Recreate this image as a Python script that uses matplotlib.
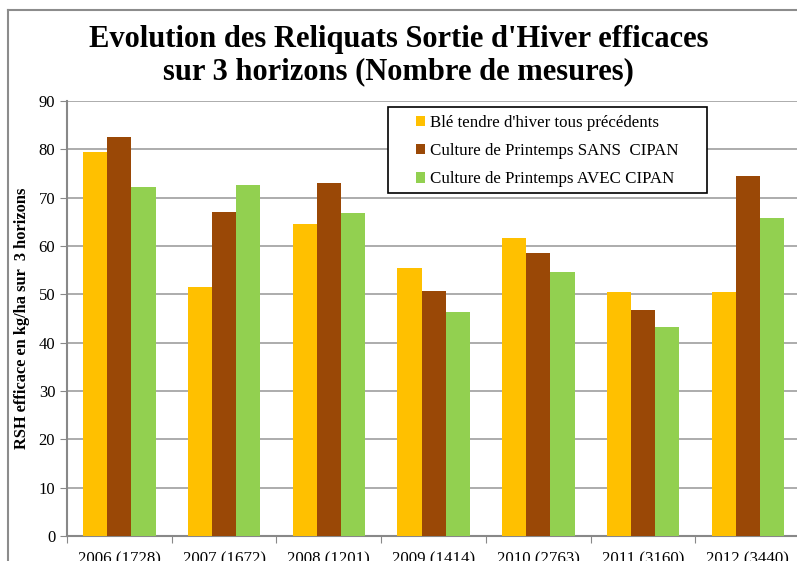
import numpy as np
import matplotlib
matplotlib.use("Agg")
import matplotlib.pyplot as plt
from matplotlib.patches import Rectangle
from matplotlib.lines import Line2D

plt.rcParams['font.family'] = ['Liberation Serif', 'DejaVu Serif']

annees = ['2006 (1728)', '2007 (1672)', '2008 (1201)', '2009 (1414)',
          '2010 (2763)', '2011 (3160)', '2012 (3440)']
ble = [79.4, 51.6, 64.6, 55.4, 61.6, 50.5, 50.5]
sans_cipan = [82.5, 67.1, 73.0, 50.7, 58.5, 46.7, 74.5]
avec_cipan = [72.2, 72.7, 66.9, 46.3, 54.6, 43.2, 65.8]

series = [
    ("Blé tendre d'hiver tous précédents", ble, '#FFC000'),
    ("Culture de Printemps SANS  CIPAN", sans_cipan, '#9A4806'),
    ("Culture de Printemps AVEC CIPAN", avec_cipan, '#92D050'),
]

W, H = 797, 561
fig = plt.figure(figsize=(W / 100, H / 100), dpi=100)
ax = fig.add_axes([67 / W, 25 / H, 0.92, 435 / H])

x = np.arange(len(annees))
w = 0.23
for i, (nom, vals, col) in enumerate(series):
    ax.bar(x + (i - 1) * w, vals, w, color=col, label=nom, zorder=3)

ax.set_ylim(0, 90)
ax.set_xlim(-0.5, len(annees) - 0.5)
ax.set_yticks(range(0, 91, 10))
ax.yaxis.grid(True, color='#A6A6A6', linewidth=1.3, zorder=0)

# ticks entre les groupes, libellés au centre
ax.set_xticks(np.arange(-0.5, len(annees), 1.0))
ax.set_xticklabels([])
ax.set_xticks(x, minor=True)
ax.set_xticklabels(annees, minor=True, fontsize=12.2)
ax.tick_params(axis='x', which='major', length=5, color='#888888', direction='out')
ax.tick_params(axis='x', which='minor', length=0, pad=11)
ax.tick_params(axis='y', length=5, color='#888888', labelsize=12)

for s in ['top', 'right']:
    ax.spines[s].set_visible(False)
for s in ['left', 'bottom']:
    ax.spines[s].set_color('#888888')
    ax.spines[s].set_linewidth(1.5)

ax.set_ylabel('RSH efficace en kg/ha sur  3 horizons', fontsize=11.8,
              fontweight='bold', labelpad=6)

fig.text(0.5, 0.847, "Evolution des Reliquats Sortie d'Hiver efficaces\nsur 3 horizons (Nombre de mesures)",
         ha='center', va='bottom', fontsize=22, fontweight='bold', linespacing=1.15)

# cadre de la zone de graphique
fig.add_artist(Line2D([8 / W, 8 / W], [0, 1 - 10 / H], color='#8C8C8C', linewidth=1.5))
fig.add_artist(Line2D([8 / W, 1], [1 - 10 / H, 1 - 10 / H], color='#8C8C8C', linewidth=1.5))

# cadre de la légende
fig.add_artist(Rectangle((388 / W, 1 - 193 / H), 319 / W, 86 / H, transform=fig.transFigure,
                         facecolor='white', edgecolor='black', linewidth=1.2, zorder=4))
handles, labels = ax.get_legend_handles_labels()
fig.legend(handles, labels, loc='upper left', bbox_to_anchor=(416 / W, 1 - 115 / H),
           fontsize=12.2, frameon=False, handlelength=0.55, handleheight=0.55,
           handletextpad=0.25, borderpad=0, labelspacing=0.72, borderaxespad=0)

fig.savefig('out.png', dpi=100)
